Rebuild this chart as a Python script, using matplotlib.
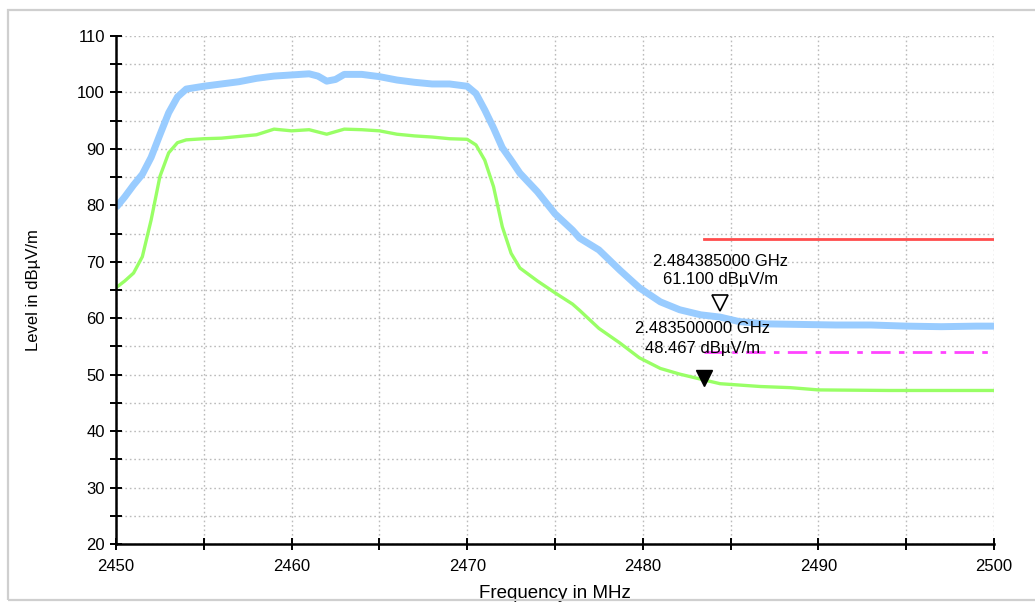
import matplotlib
matplotlib.use('Agg')
import matplotlib.pyplot as plt
from matplotlib.patches import Rectangle
from matplotlib.ticker import MultipleLocator

plt.rcParams['font.family'] = ['Liberation Sans', 'DejaVu Sans']

# ---- data (MHz, dBuV/m) ----
blue_f = [2450, 2450.5, 2451, 2451.5, 2452, 2452.5, 2453, 2453.5, 2454, 2455,
          2456, 2457, 2458, 2459, 2460, 2461, 2461.5, 2462, 2462.5, 2463,
          2464, 2465, 2466, 2467, 2468, 2469, 2470, 2470.5, 2471, 2471.5,
          2472, 2472.5, 2473, 2474, 2475, 2476, 2476.4, 2477.5, 2478.7, 2479.8,
          2481, 2482.1, 2483.3, 2484.4, 2485.5, 2487, 2489, 2491, 2493, 2495,
          2497, 2499, 2500]
blue_lvl = [79.6, 81.5, 83.6, 85.5, 88.5, 92.5, 96.4, 99.2, 100.6, 101.1,
            101.5, 101.9, 102.5, 102.9, 103.1, 103.3, 102.9, 102.0, 102.3, 103.2,
            103.2, 102.8, 102.2, 101.8, 101.5, 101.5, 101.1, 99.8, 96.9, 93.7,
            90.2, 88.0, 85.7, 82.4, 78.5, 75.6, 74.2, 72.1, 68.5, 65.4,
            62.9, 61.5, 60.6, 60.2, 59.4, 59.0, 58.9, 58.8, 58.8, 58.6,
            58.5, 58.6, 58.6]

green_f = [2450, 2450.5, 2451, 2451.5, 2452, 2452.5, 2453, 2453.5, 2454, 2455,
           2456, 2457, 2458, 2459, 2460, 2461, 2462, 2463, 2464, 2465,
           2466, 2467, 2468, 2469, 2470, 2470.5, 2471, 2471.5, 2472, 2472.5,
           2473, 2474, 2475, 2476, 2476.4, 2477.5, 2478.7, 2479.8, 2481, 2482.1,
           2483.3, 2484.4, 2486.7, 2488.4, 2490, 2494, 2500]
green_lvl = [65.4, 66.6, 68.0, 70.9, 77.4, 85.1, 89.3, 91.1, 91.6, 91.8,
             91.9, 92.2, 92.5, 93.5, 93.2, 93.4, 92.6, 93.5, 93.4, 93.2,
             92.6, 92.3, 92.1, 91.8, 91.7, 90.7, 88.0, 83.3, 76.2, 71.5,
             68.9, 66.6, 64.5, 62.5, 61.4, 58.2, 55.6, 53.0, 51.1, 50.1,
             49.2, 48.4, 47.9, 47.7, 47.3, 47.2, 47.2]

limit_f = [2483.5, 2500]
limit_peak = [74, 74]
limit_avg = [54, 54]

mk1_f, mk1_lvl = 2484.385, 61.100
mk2_f, mk2_lvl = 2483.5, 48.467

# ---- figure ----
fig = plt.figure(figsize=(10.35, 6.02), dpi=100)
fig.patches.append(Rectangle((8 / 1035, 2 / 602), 1.2, 590 / 602,
                             transform=fig.transFigure, fill=False,
                             edgecolor='#cfcfcf', linewidth=1.6))
ax = fig.add_axes([116 / 1035, 1 - 544 / 602, 878 / 1035, 508 / 602])

ax.plot(blue_f, blue_lvl, color='#99ccff', linewidth=5, solid_capstyle='butt')
ax.plot(green_f, green_lvl, color='#99ff66', linewidth=2.4)
ax.plot(limit_f, limit_peak, color='#ff4c4c', linewidth=2)
ax.plot(limit_f, limit_avg, color='#ff44ff', linewidth=2, dashes=(7, 3, 2, 3))

# markers
ax.plot(mk1_f, mk1_lvl + 1.6, marker='v', markersize=12, markerfacecolor='white',
        markeredgecolor='black', markeredgewidth=1.2, linestyle='none')
ax.plot(mk2_f, mk2_lvl + 1.0, marker='v', markersize=11, color='black', linestyle='none')

ax.text(2484.4, 70.0, '2.484385000 GHz', ha='center', va='center', fontsize=12)
ax.text(2484.4, 66.8, f'{mk1_lvl:.3f} dBµV/m', ha='center', va='center', fontsize=12)
ax.text(2483.4, 58.1, '2.483500000 GHz', ha='center', va='center', fontsize=12)
ax.text(2483.4, 54.7, f'{mk2_lvl:.3f} dBµV/m', ha='center', va='center', fontsize=12)

# axes styling
ax.set_xlim(2450, 2500)
ax.set_ylim(20, 110)
ax.xaxis.set_major_locator(MultipleLocator(10))
ax.xaxis.set_minor_locator(MultipleLocator(5))
ax.yaxis.set_major_locator(MultipleLocator(10))
ax.yaxis.set_minor_locator(MultipleLocator(5))
ax.tick_params(which='both', direction='inout', length=9, width=1.4,
               labelsize=12, color='black')
ax.tick_params(axis='x', pad=6)
ax.grid(which='both', color='#bbbbbb', linestyle=(0, (1.2, 2)), linewidth=1)
ax.spines['top'].set_visible(False)
ax.spines['right'].set_visible(False)
ax.spines['left'].set_linewidth(1.8)
ax.spines['bottom'].set_linewidth(1.8)
ax.set_axisbelow(True)

ax.set_xlabel('Frequency in MHz', fontsize=13.5, labelpad=8)
ax.set_ylabel('Level in dBµV/m', fontsize=12, labelpad=26)

fig.savefig('out.png', dpi=100)
